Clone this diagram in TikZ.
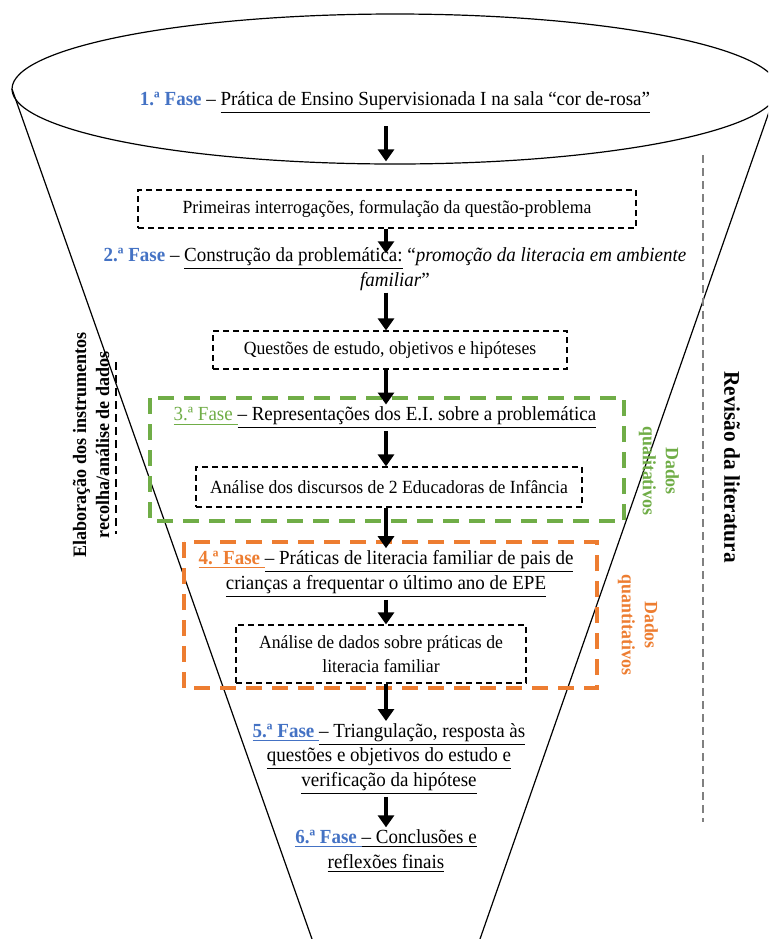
\documentclass[tikz,border=0pt]{standalone}
\usepackage{fontspec}
\setmainfont{Liberation Serif}[FakeStretch=0.95]
\usetikzlibrary{arrows.meta}
\definecolor{azulfase}{HTML}{4472C4}
\definecolor{verdefase}{HTML}{70AD47}
\definecolor{laranjafase}{HTML}{ED7D31}

\begin{document}
\begin{tikzpicture}[x=0.5pt,y=-0.5pt]
    \tikzstyle{every node}=[font=\fontsize{9.3}{12.25}\selectfont]
    \tikzstyle{fase}=[align=center, inner sep=1pt, font=\fontsize{10}{12.25}\selectfont]
    \tikzstyle{caixa}=[draw, line width=0.6pt, dash pattern=on 3pt off 2pt, align=center, inner sep=0pt]
    \tikzstyle{seta}=[-{Triangle[length=6pt,width=8pt]}, line width=1.7pt]
    \tikzstyle{grupo}=[line width=2pt, dash pattern=on 8pt off 5pt]
    \tikzstyle{lateral}=[align=center, font=\fontsize{9.5}{11.5}\selectfont\bfseries]
    \tikzstyle{dados}=[align=center, font=\fontsize{9.4}{11.5}\selectfont\bfseries]
    \clip (0,0) rectangle (768,939);
    \draw[line width=0.6pt] (395,89) ellipse [x radius=383, y radius=75];
    \coordinate (funilE) at (12,89);
    \coordinate (funilD) at (769,112);
    \coordinate (eixo) at (386,0);
    \draw[line width=0.6pt] (funilE) -- (312,939);
    \draw[line width=0.6pt] (funilD) -- (480,939);
      \draw[grupo, verdefase] (150,398) rectangle (624,521);
      \draw[grupo, laranjafase] (184,542) rectangle (597,688);
      \draw[gray, line width=0.8pt, dash pattern=on 4pt off 2.5pt] (703,155) -- (703,822);
      \draw[line width=0.6pt, dash pattern=on 4pt off 2.5pt] (116,362) -- (116,534);
      \node[fase] (fase1) at (395,103) {\textcolor{azulfase}{\textbf{1.ª Fase}} – \underline{Prática de Ensino Supervisionada I na sala “cor de-rosa”}};
      \node[caixa, minimum width=249pt, minimum height=19pt] (caixa1) at (387,209) {Primeiras interrogações, formulação da questão-problema};
      \node[fase] (fase2) at (395,269) {\textcolor{azulfase}{\textbf{2.ª Fase}} – \underline{Construção da problemática:} “\textit{promoção da literacia em ambiente}\\\textit{familiar}”};
      \node[caixa, minimum width=177pt, minimum height=19pt] (caixa2) at (390,350) {Questões de estudo, objetivos e hipóteses};
      \node[fase] (fase3) at (385,418) {\textcolor{verdefase}{\underline{3.ª Fase }}\underline{– Representações dos E.I. sobre a problemática}};
      \node[caixa, minimum width=193pt, minimum height=20pt] (caixa3) at (389,487) {Análise dos discursos de 2 Educadoras de Infância};
      \node[fase] (fase4) at (386,574) {\textcolor{laranjafase}{\underline{\textbf{4.ª Fase} }}\underline{– Práticas de literacia familiar de pais de}\\\underline{crianças a frequentar o último ano de EPE}};
      \node[caixa, minimum width=145pt, minimum height=29pt] (caixa4) at (381,654) {Análise de dados sobre práticas de\\literacia familiar};
      \node[fase] (fase5) at (389,759) {\textcolor{azulfase}{\underline{\textbf{5.ª Fase} }}\underline{– Triangulação, resposta às}\\\underline{questões e objetivos do estudo e}\\\underline{verificação da hipótese}};
      \node[fase] (fase6) at (386,851) {\textcolor{azulfase}{\underline{\textbf{6.ª Fase} }}\underline{– Conclusões e}\\\underline{reflexões finais}};
      \node[lateral, rotate=-90, font=\fontsize{11.2}{12}\selectfont\bfseries] (revisao) at (732,467) {Revisão da literatura};
      \node[lateral, rotate=90] (elaboracao) at (91,445) {Elaboração dos instrumentos\\recolha/análise de dados};
      \node[dados, rotate=-90, verdefase] (qualitativos) at (659,471) {Dados\\qualitativos};
      \node[dados, rotate=-90, laranjafase] (quantitativos) at (638,625) {Dados\\quantitativos};
    \draw[seta, shorten <=5pt, shorten >=14pt] (fase1.south -| eixo) -- (caixa1.north -| eixo);
    \draw[seta, shorten >=-4pt] (caixa1.south -| eixo) -- (fase2.north -| eixo);
    \draw[seta] (fase2.south -| eixo) -- (caixa2.north -| eixo);
    \draw[seta] (caixa2.south -| eixo) -- (fase3.north -| eixo);
    \draw[seta] (fase3.south -| eixo) -- (caixa3.north -| eixo);
    \draw[seta] (caixa3.south -| eixo) -- (fase4.north -| eixo);
    \draw[seta] (fase4.south -| eixo) -- (caixa4.north -| eixo);
    \draw[seta] (caixa4.south -| eixo) -- (fase5.north -| eixo);
    \draw[seta] (fase5.south -| eixo) -- (fase6.north -| eixo);
\end{tikzpicture}
\end{document}
